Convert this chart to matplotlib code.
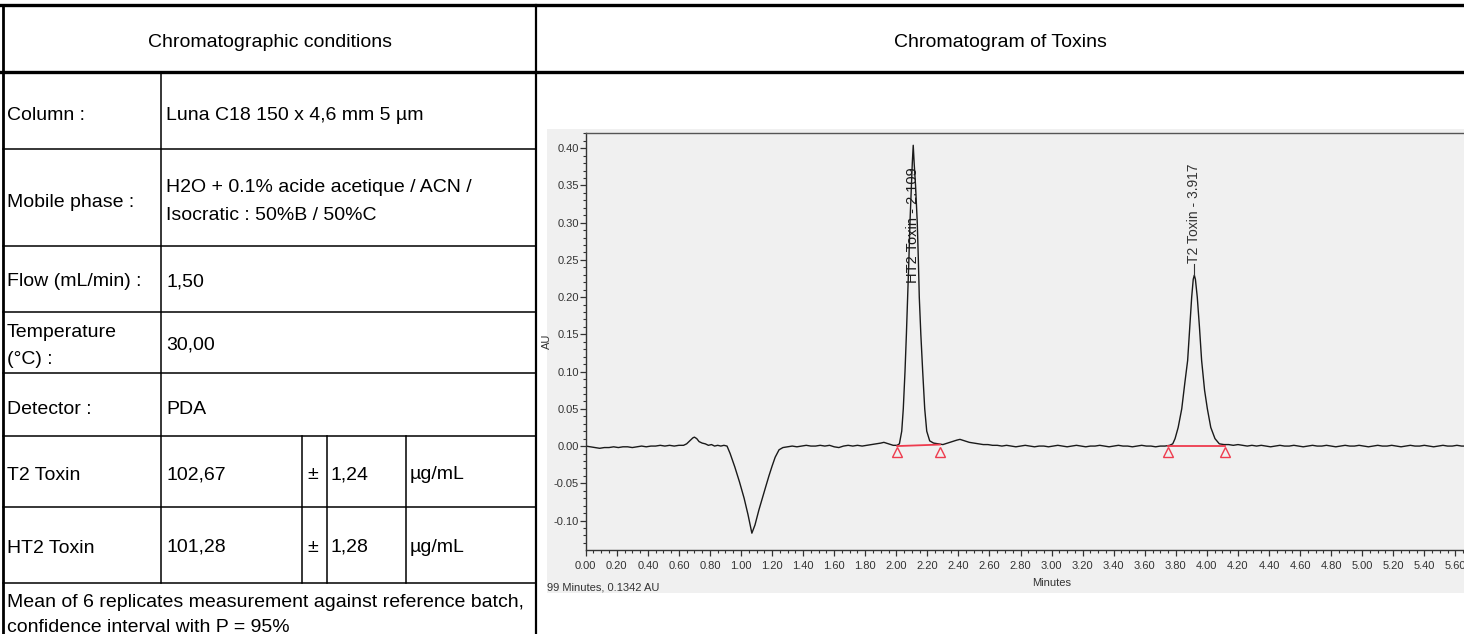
import matplotlib
matplotlib.use("Agg")
import matplotlib.pyplot as plt
from matplotlib.lines import Line2D
from matplotlib.patches import Rectangle
from matplotlib.ticker import MultipleLocator, FormatStrFormatter
from matplotlib import font_manager

# fonts
noms = {f.name for f in font_manager.fontManager.ttflist}
police = "Liberation Sans" if "Liberation Sans" in noms else "DejaVu Sans"
etroite = "Liberation Sans Narrow" if "Liberation Sans Narrow" in noms else police
plt.rcParams['font.family'] = [police, 'DejaVu Sans']

# table content
titre_gauche = "Chromatographic conditions"
titre_droite = "Chromatogram of Toxins"
colonne = "Luna C18 150 x 4,6 mm 5 µm"
phase_mobile = ["H2O + 0.1% acide acetique / ACN /", "Isocratic : 50%B / 50%C"]
debit = "1,50"
temperature = "30,00"
detecteur = "PDA"
toxines = ["T2 Toxin", "HT2 Toxin"]
teneurs = ["102,67", "101,28"]
incertitudes = ["1,24", "1,28"]
unite = "µg/mL"
note = ["Mean of 6 replicates measurement against reference batch,",
        "confidence interval with P = 95%"]

# chromatogram trace (minutes, AU)
temps = [0.00, 0.03, 0.06, 0.09, 0.12, 0.15, 0.18, 0.21, 0.24, 0.27, 0.30, 0.33,
         0.36, 0.39, 0.42, 0.45, 0.48, 0.51, 0.54, 0.57, 0.60, 0.63,
         0.65, 0.67, 0.69, 0.70, 0.715, 0.73, 0.75, 0.77, 0.79, 0.81, 0.83, 0.85,
         0.87, 0.89, 0.91,
         0.93, 0.96, 0.99, 1.02, 1.045, 1.07, 1.09, 1.115, 1.14, 1.16, 1.18, 1.20,
         1.22, 1.245, 1.27, 1.30,
         1.33, 1.36, 1.39, 1.42, 1.45, 1.48, 1.51, 1.54, 1.57, 1.60, 1.63, 1.66,
         1.69, 1.72, 1.75, 1.78, 1.81, 1.84, 1.87, 1.90, 1.92, 1.95, 1.98, 2.005,
         2.02, 2.035, 2.045, 2.056, 2.065, 2.073, 2.081, 2.088, 2.097, 2.103, 2.109,
         2.115, 2.124, 2.135, 2.142, 2.148, 2.158, 2.170, 2.183, 2.196, 2.215, 2.24,
         2.27, 2.30, 2.33, 2.36, 2.39, 2.41, 2.44, 2.47, 2.50, 2.53, 2.56, 2.59,
         2.62, 2.65, 2.68, 2.71, 2.74, 2.77, 2.80, 2.83, 2.86, 2.89, 2.92, 2.95,
         2.98, 3.01, 3.04, 3.07, 3.10, 3.13, 3.16, 3.19, 3.22, 3.25, 3.28, 3.31,
         3.34, 3.37, 3.40, 3.43, 3.46, 3.49, 3.52, 3.55, 3.58, 3.61, 3.64, 3.67,
         3.70, 3.73,
         3.76, 3.78, 3.795, 3.815, 3.838, 3.858, 3.876, 3.89, 3.902, 3.912, 3.919,
         3.926, 3.938, 3.952, 3.966, 3.985, 4.003, 4.025, 4.052, 4.08, 4.11,
         4.14, 4.17, 4.20, 4.23, 4.26, 4.29, 4.32, 4.35, 4.38, 4.41, 4.44, 4.47,
         4.50, 4.53, 4.56, 4.59, 4.62, 4.65, 4.68, 4.71, 4.74, 4.77, 4.80, 4.83,
         4.86, 4.89, 4.92, 4.95, 4.98, 5.01, 5.04, 5.07, 5.10, 5.13, 5.16, 5.19,
         5.22, 5.25, 5.28, 5.31, 5.34, 5.37, 5.40, 5.43, 5.46, 5.49, 5.52, 5.55,
         5.58, 5.61, 5.64, 5.66]
au = [0.000, -0.001, -0.002, -0.003, -0.002, -0.002, -0.001, -0.002, -0.001, -0.001, -0.002, -0.001,
      0.000, -0.001, 0.000, 0.000, 0.001, 0.000, 0.001, 0.000, 0.001, 0.001,
      0.003, 0.007, 0.011, 0.012, 0.010, 0.006, 0.004, 0.003, 0.001, 0.002, 0.000, 0.001,
      0.000, 0.001, 0.000,
      -0.010, -0.028, -0.048, -0.070, -0.092, -0.117, -0.106, -0.086, -0.068, -0.054, -0.040, -0.027,
      -0.015, -0.005, -0.002, -0.001,
      0.000, -0.001, 0.000, 0.001, 0.000, 0.000, 0.001, 0.000, 0.001, -0.001, -0.002, 0.000,
      0.001, 0.000, 0.001, 0.000, 0.001, 0.002, 0.003, 0.004, 0.005, 0.003, 0.001, 0.001,
      0.003, 0.020, 0.050, 0.100, 0.150, 0.200, 0.250, 0.300, 0.350, 0.380, 0.404,
      0.380, 0.350, 0.300, 0.250, 0.200, 0.150, 0.100, 0.050, 0.020, 0.007, 0.004,
      0.003, 0.002, 0.004, 0.006, 0.008, 0.009, 0.007, 0.005, 0.004, 0.003, 0.002, 0.002,
      0.001, 0.001, 0.000, 0.001, 0.000, -0.001, 0.000, 0.001, 0.000, -0.001, 0.000, 0.000,
      -0.001, 0.000, 0.001, 0.000, -0.001, 0.000, 0.001, 0.000, -0.001, 0.000, 0.000, 0.001,
      0.000, -0.001, 0.000, 0.001, 0.000, 0.000, -0.001, 0.000, 0.001, 0.000, 0.000, -0.001,
      0.000, 0.000,
      0.001, 0.003, 0.010, 0.025, 0.050, 0.085, 0.115, 0.160, 0.200, 0.224, 0.2295,
      0.224, 0.200, 0.160, 0.115, 0.075, 0.050, 0.025, 0.010, 0.003, 0.002,
      0.002, 0.001, 0.002, 0.001, 0.000, 0.001, 0.000, 0.001, 0.000, -0.001, 0.000, 0.001,
      0.000, 0.000, 0.001, 0.000, -0.001, 0.000, 0.001, 0.000, 0.000, 0.001, 0.000, -0.001,
      0.000, 0.001, 0.000, 0.000, 0.001, 0.000, -0.001, 0.000, 0.001, 0.000, 0.000, 0.001,
      0.000, -0.001, 0.000, 0.001, 0.000, 0.000, 0.001, 0.000, -0.001, 0.000, 0.001, 0.000,
      0.000, 0.001, 0.000, 0.000]

pics = ["HT2 Toxin - 2.109", "T2 Toxin - 3.917"]
pics_temps = [2.109, 3.917]
pics_hauteur = [0.404, 0.2295]
debut_integration = [2.006, 3.748]
fin_integration = [2.281, 4.117]
niveau_debut = [0.000, 0.000]
niveau_fin = [0.002, 0.000]

W, H = 1464, 634
fig = plt.figure(figsize=(W / 100, H / 100), dpi=100)

def fx(x):
    return x / W

def fy(y):
    return 1 - y / H

def trait(x0, y0, x1, y1, lw):
    fig.add_artist(Line2D([fx(x0), fx(x1)], [fy(y0), fy(y1)], color='black',
                          lw=lw, solid_capstyle='projecting'))

def texte(x, y, s, **kw):
    fig.text(fx(x), fy(y), s, fontsize=14, color='black', va='baseline', **kw)

# grey background of the chromatogram screenshot (behind the axes)
fig.add_artist(Rectangle((fx(547), fy(593)), fx(1464) - fx(547), fy(129) - fy(593),
                         facecolor='#f0f0f0', edgecolor='none', zorder=-5))

# table grid
trait(0, 5, W, 5, 2.4)
trait(0, 72, W, 72, 2.4)
trait(3, 5, 3, H, 2.0)
trait(536, 5, 536, H, 1.6)
for y in [149, 246, 312, 373, 436, 507, 583]:
    trait(3, y, 536, y, 1.1)
trait(161, 72, 161, 583, 1.1)
for x in [302, 327, 406]:
    trait(x, 436, x, 583, 1.1)

texte(269.5, 47, titre_gauche, ha='center')
texte(1000, 47, titre_droite, ha='center')
texte(7, 120, "Column :")
texte(166, 120, colonne)
texte(7, 207, "Mobile phase :")
texte(166, 192, phase_mobile[0])
texte(166, 220, phase_mobile[1])
texte(7, 286, "Flow (mL/min) :")
texte(166, 286, debit)
texte(7, 337, "Temperature")
texte(7, 364, "(°C) :")
texte(166, 350, temperature)
texte(7, 414, "Detector :")
texte(166, 414, detecteur)
for i, yb in enumerate([480, 553]):
    texte(7, yb, toxines[i])
    texte(166, yb - 1, teneurs[i])
    texte(307, yb - 1, "±")
    texte(331, yb - 1, incertitudes[i])
    texte(410, yb - 1, unite)
texte(7, 607, note[0])
texte(7, 632, note[1])

# chromatogram
x0, xd = 585.7, 155.3
ax = fig.add_axes([fx(x0), fy(550), fx(W) - fx(x0), fy(133) - fy(550)])
ax.set_facecolor('#f0f0f0')
ax.plot(temps, au, color='#1a1a1a', lw=1.0)

for i in range(len(pics)):
    ax.plot([debut_integration[i], fin_integration[i]], [niveau_debut[i], niveau_fin[i]],
            color='#ee3b4e', lw=1.3)
    ax.plot([debut_integration[i], fin_integration[i]], [-0.0075, -0.0075], ls='none',
            marker='^', markersize=7, markerfacecolor='none', markeredgecolor='#ee3b4e',
            markeredgewidth=1.0)

ax.text(pics_temps[0], 0.297, pics[0], rotation=90, ha='center', va='center',
        fontsize=10.5, color='#1a1a1a')
ax.plot([pics_temps[1], pics_temps[1]], [pics_hauteur[1], 0.245], color='#333333', lw=0.8)
ax.text(pics_temps[1], 0.246, pics[1], rotation=90, ha='center', va='bottom',
        fontsize=10, color='#333333')

ax.set_xlim(0, (W - x0) / xd)
ax.set_ylim(-0.1396, 0.4205)
ax.xaxis.set_major_locator(MultipleLocator(0.2))
ax.xaxis.set_minor_locator(MultipleLocator(0.05))
ax.yaxis.set_major_locator(MultipleLocator(0.05))
ax.yaxis.set_minor_locator(MultipleLocator(0.01))
ax.xaxis.set_major_formatter(FormatStrFormatter('%.2f'))
ax.yaxis.set_major_formatter(FormatStrFormatter('%.2f'))
ax.tick_params(axis='both', which='major', direction='out', length=4, width=0.9,
               colors='#333333', labelsize=8, pad=1)
ax.tick_params(axis='x', which='major', pad=4)
ax.tick_params(axis='both', which='minor', direction='out', length=2, width=0.8,
               colors='#333333')
for lab in ax.get_xticklabels() + ax.get_yticklabels():
    lab.set_fontfamily(etroite)
ax.spines['right'].set_visible(False)
for s in ['left', 'bottom', 'top']:
    ax.spines[s].set_color('#333333')
    ax.spines[s].set_linewidth(1.0)
ax.spines['top'].set_color('#555555')

ax.set_ylabel("AU", fontsize=8, fontfamily=etroite, color='#333333')
ax.yaxis.set_label_coords(-(x0 - 552) / (W - x0), 0.5)

fig.text(fx(1052), fy(583), "Minutes", ha='center', va='center', fontsize=8,
         fontfamily=etroite, color='#333333')
fig.text(fx(547), fy(587), "99 Minutes, 0.1342 AU", ha='left', va='center', fontsize=8,
         fontfamily=etroite, color='#333333')

fig.savefig("out.png", dpi=100, facecolor='white')
